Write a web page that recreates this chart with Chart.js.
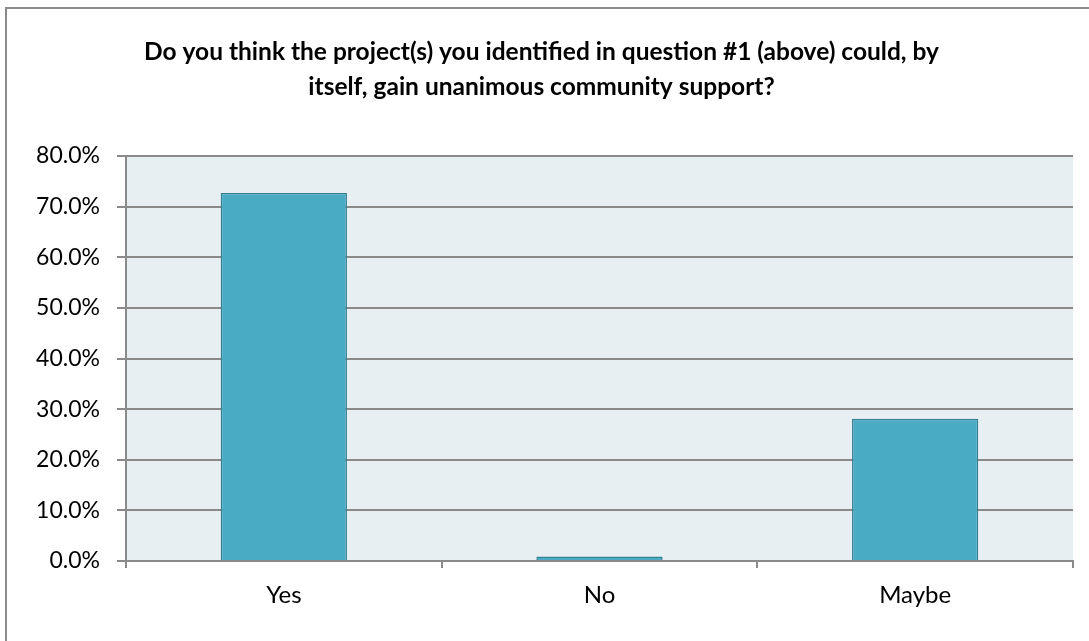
<!DOCTYPE html>
<html>
<head>
<meta charset="utf-8">
<script src="https://cdn.jsdelivr.net/npm/chart.js@4.4.0/dist/chart.umd.min.js"></script>
<style>
  html, body { margin: 0; padding: 0; background: #ffffff; }
  #wrap { width: 1089px; height: 641px; position: relative; }
</style>
</head>
<body>
<div id="wrap"><canvas id="c" width="1089" height="641"></canvas></div>
<script>
const titleLines = [
  "Do you think the project(s) you identified in question #1 (above) could, by",
  "itself, gain unanimous community support?"
];
const categories = ["Yes", "No", "Maybe"];
const responsePercent = [72.7, 0.9, 28.1];
const yTickMin = 0;
const yTickMax = 80;
const yTickStep = 10;

const FONT = "Lato, 'Open Sans', 'Liberation Sans', sans-serif";

const frameAndBackground = {
  id: 'frameAndBackground',
  beforeDraw(chart) {
    const { ctx, chartArea } = chart;
    ctx.save();
    ctx.fillStyle = '#ffffff';
    ctx.fillRect(0, 0, chart.width, chart.height);
    ctx.strokeStyle = '#8a8a8a';
    ctx.lineWidth = 2;
    ctx.strokeRect(6, 8, chart.width + 20, chart.height + 20);
    ctx.fillStyle = '#e8eff3';
    ctx.fillRect(chartArea.left, chartArea.top, chartArea.right - chartArea.left, chartArea.bottom - chartArea.top);
    ctx.restore();
  }
};

new Chart(document.getElementById('c'), {
  type: 'bar',
  data: {
    labels: categories,
    datasets: [{
      data: responsePercent,
      backgroundColor: '#4aabc5',
      borderColor: '#357f94',
      borderWidth: 1.5,
      categoryPercentage: 1.0,
      barPercentage: 0.40
    }]
  },
  options: {
    responsive: false,
    animation: false,
    devicePixelRatio: 1,
    layout: { padding: { top: 0, left: 10, right: 16, bottom: 0 } },
    plugins: {
      legend: { display: false },
      tooltip: { enabled: false },
      title: {
        display: true,
        text: titleLines,
        color: '#000000',
        font: { family: FONT, size: 24.5, weight: 'bold', lineHeight: 35 / 24.5 },
        padding: { top: 34.5, bottom: 51.5 }
      }
    },
    scales: {
      x: {
        offset: true,
        grid: {
          offset: true,
          drawOnChartArea: false,
          drawTicks: true,
          tickLength: 7,
          color: '#8a8a8a',
          lineWidth: 2
        },
        border: { display: true, color: '#8a8a8a', width: 2 },
        ticks: {
          color: '#000000',
          font: { family: FONT, size: 24 },
          padding: 13
        },
        afterFit(scale) { scale.height = 80; }
      },
      y: {
        min: yTickMin,
        max: yTickMax,
        ticks: {
          stepSize: yTickStep,
          color: '#000000',
          font: { family: FONT, size: 23 },
          padding: 17,
          callback: (v) => Number(v).toFixed(1) + '%'
        },
        grid: {
          color: '#8a8a8a',
          lineWidth: 2,
          tickLength: 9,
          drawTicks: true
        },
        border: { display: true, color: '#8a8a8a', width: 2 },
        afterFit(scale) { scale.width = 116; }
      }
    }
  },
  plugins: [frameAndBackground]
});
</script>
</body>
</html>
